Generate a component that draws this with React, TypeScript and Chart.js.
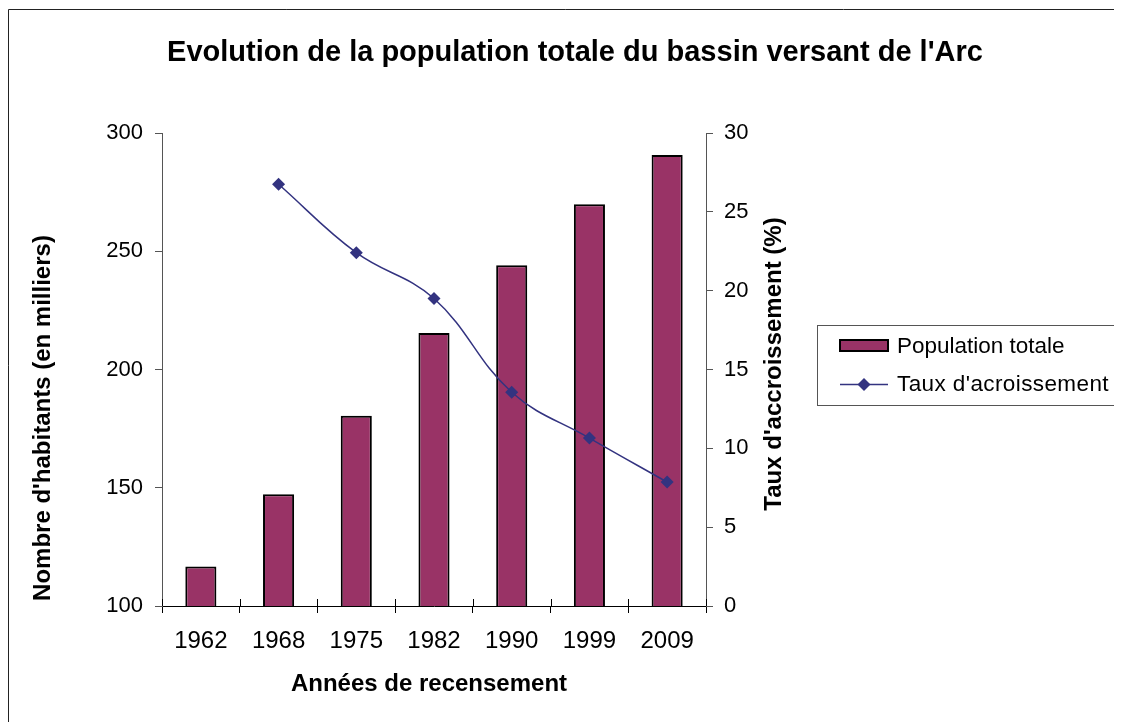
import React, { useEffect, useRef } from "react";
import { Chart, registerables } from "chart.js";
Chart.register(...registerables);

const categories = ["1962", "1968", "1975", "1982", "1990", "1999", "2009"];
const population = [116.7, 147.3, 180.4, 215.4, 244.1, 269.9, 290.7];
const growthRate = [null, 26.75, 22.41, 19.5, 13.56, 10.65, 7.86];
const leftTicks = [100, 150, 200, 250, 300];
const rightTicks = [0, 5, 10, 15, 20, 25, 30];

const titleText = "Evolution de la population totale du bassin versant de l'Arc";
const xTitle = "Années de recensement";
const yTitle = "Nombre d'habitants (en milliers)";
const y1Title = "Taux d'accroissement (%)";
const barLabel = "Population totale";
const lineLabel = "Taux d'acroissement";

const FONT = '"Liberation Sans", Arial, sans-serif';
const BAR_COLOR = "#993366";
const LINE_COLOR = "#333380";

const W = 1114;
const H = 714;

const decorPlugin = {
  id: "decor",
  beforeDraw(chart: any) {
    const ctx = chart.ctx;
    ctx.save();
    ctx.fillStyle = "#fff";
    ctx.fillRect(0, 0, chart.width, chart.height);
    ctx.strokeStyle = "#222";
    ctx.lineWidth = 1;
    ctx.beginPath();
    ctx.moveTo(0.5, chart.height);
    ctx.lineTo(0.5, 1.5);
    ctx.lineTo(chart.width, 1.5);
    ctx.stroke();
    ctx.restore();
  },
  afterDraw(chart: any) {
    const ctx = chart.ctx;
    const area = chart.chartArea;
    const xs = chart.scales.x;
    ctx.save();
    // inner half of category ticks
    ctx.strokeStyle = "#000";
    ctx.lineWidth = 1;
    const n = categories.length;
    for (let i = 0; i <= n; i++) {
      const x = Math.round(xs.left + (i * xs.width) / n) + 0.5;
      ctx.beginPath();
      ctx.moveTo(x, area.bottom - 7);
      ctx.lineTo(x, area.bottom);
      ctx.stroke();
    }
    // title
    ctx.fillStyle = "#000";
    ctx.textAlign = "center";
    ctx.textBaseline = "middle";
    ctx.font = `bold 29px ${FONT}`;
    ctx.fillText(titleText, 567, 45);
    // x title
    ctx.font = `bold 24px ${FONT}`;
    ctx.fillText(xTitle, (area.left + area.right) / 2 - 5, 676);
    // left y title
    ctx.save();
    ctx.translate(35, 410);
    ctx.rotate(-Math.PI / 2);
    ctx.fillText(yTitle, 0, 0);
    ctx.restore();
    // right y title
    ctx.save();
    ctx.translate(766, 356);
    ctx.rotate(-Math.PI / 2);
    ctx.fillText(y1Title, 0, 0);
    ctx.restore();

    // legend
    const lx = 809, ly = 317, lw = 301, lh = 80;
    ctx.strokeStyle = "#555";
    ctx.lineWidth = 1;
    ctx.strokeRect(lx + 0.5, ly + 0.5, lw, lh);
    ctx.fillStyle = BAR_COLOR;
    ctx.fillRect(832, 332, 48, 11);
    ctx.strokeStyle = "#000";
    ctx.lineWidth = 2;
    ctx.strokeRect(832, 332, 48, 11);
    ctx.strokeStyle = LINE_COLOR;
    ctx.lineWidth = 1.5;
    ctx.beginPath();
    ctx.moveTo(832, 376.5);
    ctx.lineTo(880, 376.5);
    ctx.stroke();
    ctx.fillStyle = LINE_COLOR;
    ctx.beginPath();
    ctx.moveTo(856, 370);
    ctx.lineTo(862.5, 376.5);
    ctx.lineTo(856, 383);
    ctx.lineTo(849.5, 376.5);
    ctx.closePath();
    ctx.fill();
    ctx.fillStyle = "#000";
    ctx.textAlign = "left";
    ctx.font = `22.5px ${FONT}`;
    ctx.fillText(chart.data.datasets[0].label, 889, 339);
    (ctx as any).letterSpacing = "0.4px";
    ctx.fillText(chart.data.datasets[1].label, 889, 377);
    (ctx as any).letterSpacing = "0px";
    ctx.restore();
  },
};

export default function App() {
  const ref = useRef<HTMLCanvasElement>(null);
  useEffect(() => {
    if (!ref.current) return;
    const chart = new Chart(ref.current, {
      data: {
        labels: categories,
        datasets: [
          {
            type: "bar",
            label: barLabel,
            data: population,
            yAxisID: "y",
            backgroundColor: BAR_COLOR,
            borderColor: "#000",
            borderWidth: 2,
            borderSkipped: false,
            barPercentage: 0.4,
            categoryPercentage: 1,
            order: 1,
          } as any,
          {
            type: "line",
            label: lineLabel,
            data: growthRate,
            yAxisID: "y1",
            borderColor: LINE_COLOR,
            backgroundColor: LINE_COLOR,
            borderWidth: 1.5,
            pointStyle: "rectRot",
            pointRadius: 6.5,
            pointBorderWidth: 0,
            tension: 0.4,
            order: 0,
          } as any,
        ],
      },
      options: {
        responsive: false,
        animation: false,
        layout: { padding: { left: 0, top: 125, right: 356, bottom: 56 } },
        plugins: {
          legend: { display: false },
          title: { display: false },
          tooltip: { enabled: false },
        },
        scales: {
          x: {
            offset: true,
            grid: { display: true, drawOnChartArea: false, offset: true, tickLength: 7, color: "#000" },
            border: { display: true, color: "#000", width: 1 },
            ticks: { color: "#000", font: { family: FONT, size: 24 }, padding: 14, maxRotation: 0 },
            afterFit: (s: any) => { s.height = 60; },
          },
          y: {
            position: "left",
            min: leftTicks[0],
            max: leftTicks[leftTicks.length - 1],
            afterBuildTicks: (s: any) => { s.ticks = leftTicks.map((v) => ({ value: v })); },
            grid: { display: true, drawOnChartArea: false, tickLength: 7, color: "#555" },
            border: { display: true, color: "#555", width: 1 },
            ticks: { color: "#000", font: { family: FONT, size: 22 }, padding: 12 },
            afterFit: (s: any) => { s.width = 154; },
          },
          y1: {
            position: "right",
            min: rightTicks[0],
            max: rightTicks[rightTicks.length - 1],
            afterBuildTicks: (s: any) => { s.ticks = rightTicks.map((v) => ({ value: v })); },
            grid: { display: true, drawOnChartArea: false, tickLength: 7, color: "#555" },
            border: { display: true, color: "#555", width: 1 },
            ticks: { color: "#000", font: { family: FONT, size: 22 }, padding: 11 },
            afterFit: (s: any) => { s.width = 60; },
          },
        },
      } as any,
      plugins: [decorPlugin],
    } as any);
    return () => chart.destroy();
  }, []);
  return (
    <div style={{ width: W, height: H }}>
      <canvas ref={ref} width={W} height={H} style={{ display: "block" }} />
    </div>
  );
}
